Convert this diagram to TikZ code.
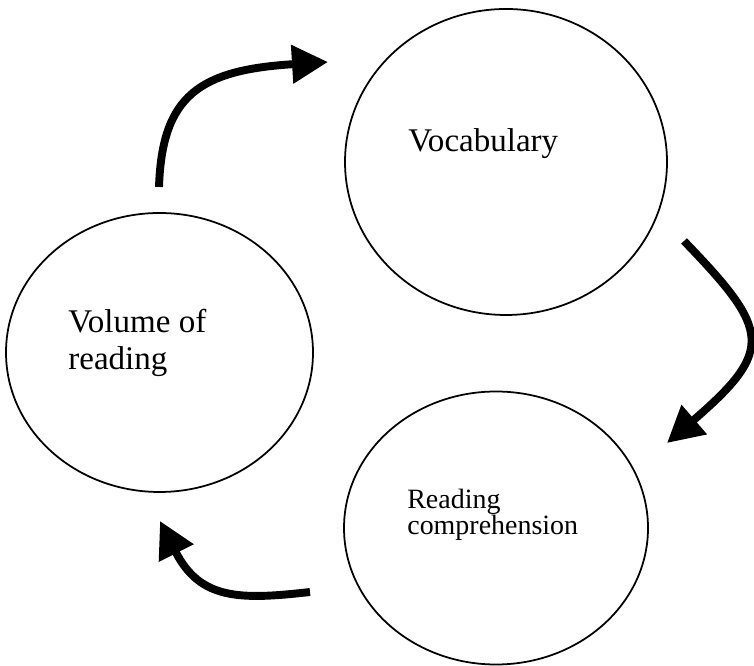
\documentclass[tikz,border=0pt]{standalone}
\usepackage{fontspec}
\setmainfont{Liberation Serif}
\usetikzlibrary{shapes.geometric,arrows.meta}
\begin{document}
\begin{tikzpicture}
		\tikzstyle{Bubble} = [ellipse, draw=black, line width=1pt, fill=white, inner sep=0pt]
		\tikzstyle{Label} = [anchor=base west, inner sep=0pt, align=left]
		\tikzstyle{arrow} = [line width=4.5pt, -{Triangle[length=0.72cm, width=0.74cm]}]
		
		\useasboundingbox (0,0) rectangle (15.08,13.32);
		\node (vocab) [Bubble, minimum width=6.44cm, minimum height=6.12cm] at (10.12,10.08) {};
		\node (volume) [Bubble, minimum width=6.14cm, minimum height=5.58cm] at (3.19,6.27) {};
		\node (compr) [Bubble, minimum width=6.08cm, minimum height=5.46cm] at (9.92,2.76) {};
		\node (vocabText) [Label, font=\fontsize{18.8}{22}\selectfont] at (8.16,10.28) {Vocabulary};
		\node (volumeText) [Label, font=\fontsize{18.8}{21.6}\selectfont] at (1.36,5.92) {Volume of\\reading};
		\node (comprText) [Label, font=\fontsize{15.9}{14.8}\selectfont] at (8.14,2.62) {Reading\\comprehension};
		
		\coordinate (volOut) at (3.18,9.58);
		\coordinate (vocabIn) at (6.56,12.08);
		\coordinate (vocabOut) at (13.68,8.50);
		\coordinate (comprIn) at (13.34,4.46);
		\coordinate (comprOut) at (6.20,1.48);
		\coordinate (volIn) at (3.20,2.90);
		\draw [arrow] (volOut) .. controls (3.24,11.42) and (4.0,11.92) .. (vocabIn);
		\draw [arrow] (vocabOut) .. controls (15.40,6.72) and (15.50,6.32) .. (comprIn);
		\draw [arrow] (comprOut) .. controls (4.80,1.32) and (4.00,1.32) .. (volIn);
\end{tikzpicture}
\end{document}
